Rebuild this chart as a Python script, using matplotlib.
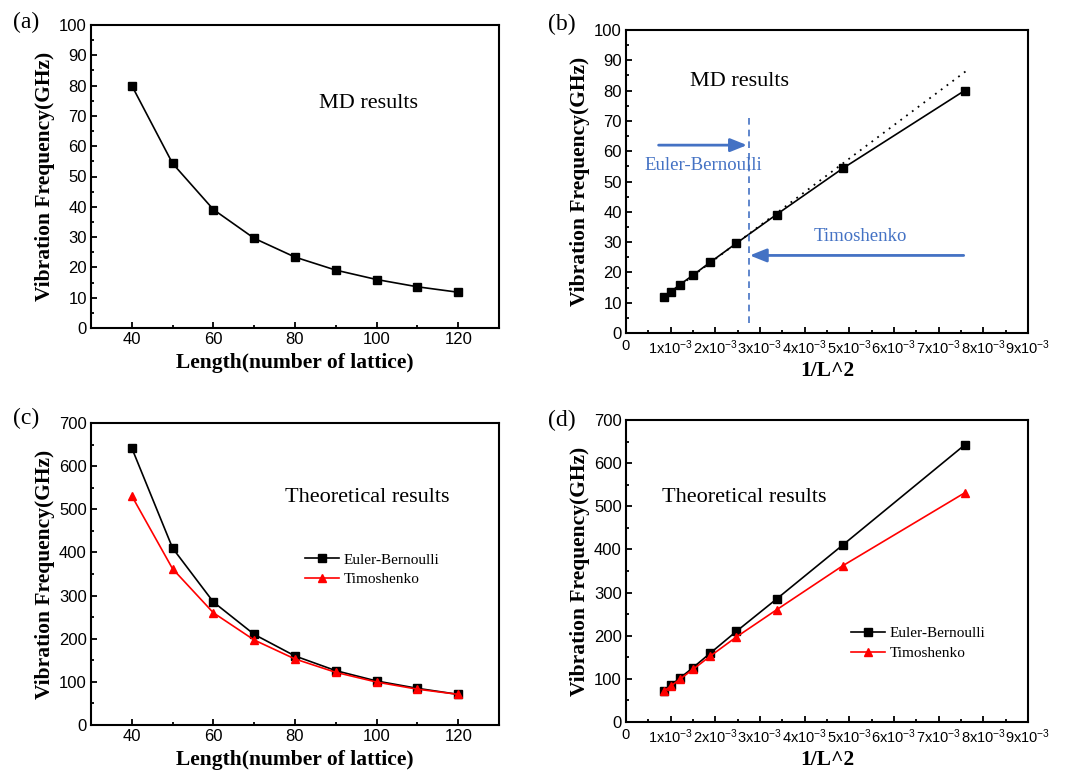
import matplotlib
matplotlib.use("Agg")
import matplotlib.pyplot as plt
from matplotlib.ticker import MultipleLocator, FixedLocator, FixedFormatter

plt.rcParams['font.family'] = ['Liberation Sans', 'DejaVu Sans']
plt.rcParams['mathtext.default'] = 'regular'

# ---------------- data ----------------
length = [40, 50, 60, 70, 80, 90, 100, 110, 120]
inv_L2 = [7.58e-3, 4.85e-3, 3.37e-3, 2.47e-3, 1.89e-3, 1.50e-3, 1.21e-3, 1.00e-3, 0.84e-3]
md_freq = [80.0, 54.3, 39.1, 29.6, 23.4, 19.1, 16.0, 13.6, 11.8]
euler_freq = [642, 410, 285, 210, 160, 126, 102, 85, 71]
timo_freq = [531, 362, 260, 197, 153, 122, 99.5, 83, 71]
fit_x = [0.84e-3, 7.6e-3]
fit_y = [11.6, 86.3]
boundary_x = 2.75e-3
inv_ticks = [0, 1e-3, 2e-3, 3e-3, 4e-3, 5e-3, 6e-3, 7e-3, 8e-3, 9e-3]
inv_labels = ['0'] + [r'%dx10$^{-3}$' % i for i in range(1, 10)]

W, H = 1067, 774
fig = plt.figure(figsize=(W / 100, H / 100), dpi=100)

def px_axes(l, t, r, b):
    return fig.add_axes([l / W, 1 - b / H, (r - l) / W, (b - t) / H])

ax_a = px_axes(91, 25, 499, 328)
ax_b = px_axes(626, 30, 1028, 333)
ax_c = px_axes(91, 423, 499, 725)
ax_d = px_axes(626, 420, 1028, 722)

serif = 'Liberation Serif'
lab_kw = dict(family=serif, fontweight='bold', fontsize=15.5)
blue = '#4472C4'

def style(ax):
    for s in ax.spines.values():
        s.set_linewidth(1.5)
    ax.tick_params(which='major', direction='in', length=4, width=1.3, labelsize=12, pad=3)
    ax.tick_params(which='minor', direction='in', length=2.5, width=1.3)
    ax.set_ylabel('Vibration Frequency(GHz)', labelpad=3, **lab_kw)

def style_len(ax):
    ax.set_xlim(30, 130)
    ax.xaxis.set_major_locator(MultipleLocator(20))
    ax.xaxis.set_minor_locator(MultipleLocator(10))
    ax.set_xlabel('Length(number of lattice)', labelpad=4, **lab_kw)

def style_inv(ax):
    ax.set_xlim(0, 9e-3)
    ax.xaxis.set_major_locator(FixedLocator(inv_ticks))
    ax.xaxis.set_major_formatter(FixedFormatter(inv_labels))
    ax.xaxis.set_minor_locator(MultipleLocator(0.5e-3))
    ax.tick_params(axis='x', labelsize=10.5, pad=4)
    ax.set_xlabel('1/L^2', labelpad=3, **lab_kw)

mk = dict(markersize=5.5, lw=1.2)

# (a)
ax_a.plot(length, md_freq, color='black', marker='s', **mk)
ax_a.set_ylim(0, 100)
ax_a.yaxis.set_major_locator(MultipleLocator(10))
ax_a.yaxis.set_minor_locator(MultipleLocator(5))
style(ax_a); style_len(ax_a)
ax_a.text(86, 74, 'MD results', family=serif, fontsize=16, va='center', ha='left')

# (b)
ax_b.plot(inv_L2, md_freq, color='black', marker='s', **mk)
ax_b.plot(fit_x, fit_y, color='black', ls=(0, (1, 3)), lw=1.3)
ax_b.plot([boundary_x, boundary_x], [3.3, 72.5], color=blue, ls=(0, (4, 3)), lw=1.2)
arrow_kw = dict(arrowstyle='-|>,head_length=1.0,head_width=0.4', color=blue, lw=2,
                shrinkA=0, shrinkB=0)
ax_b.annotate('', xy=(2.71e-3, 62), xytext=(0.73e-3, 62), arrowprops=arrow_kw)
ax_b.annotate('', xy=(2.77e-3, 25.6), xytext=(7.56e-3, 25.6), arrowprops=arrow_kw)
ax_b.text(1.74e-3, 55.3, 'Euler-Bernoulli', family=serif, fontsize=13.5, color=blue, ha='center', va='center')
ax_b.text(5.25e-3, 32, 'Timoshenko', family=serif, fontsize=13.5, color=blue, ha='center', va='center')
ax_b.text(1.44e-3, 83, 'MD results', family=serif, fontsize=16, va='center', ha='left')
ax_b.set_ylim(0, 100)
ax_b.yaxis.set_major_locator(MultipleLocator(10))
ax_b.yaxis.set_minor_locator(MultipleLocator(5))
style(ax_b); style_inv(ax_b)

# (c)
ax_c.plot(length, euler_freq, color='black', marker='s', label='Euler-Bernoulli', **mk)
ax_c.plot(length, timo_freq, color='red', marker='^', label='Timoshenko', **mk)
ax_c.set_ylim(0, 700)
ax_c.yaxis.set_major_locator(MultipleLocator(100))
ax_c.yaxis.set_minor_locator(MultipleLocator(50))
style(ax_c); style_len(ax_c)
ax_c.text(77.5, 528, 'Theoretical results', family=serif, fontsize=16, va='center', ha='left')
ax_c.legend(loc='upper left', bbox_to_anchor=(0.51, 0.59), frameon=False,
            prop=dict(family=serif, size=11), handlelength=2.2, handletextpad=0.3,
            labelspacing=0.4, borderaxespad=0)

# (d)
ax_d.plot(inv_L2, euler_freq, color='black', marker='s', label='Euler-Bernoulli', **mk)
ax_d.plot(inv_L2, timo_freq, color='red', marker='^', label='Timoshenko', **mk)
ax_d.set_ylim(0, 700)
ax_d.yaxis.set_major_locator(MultipleLocator(100))
ax_d.yaxis.set_minor_locator(MultipleLocator(50))
style(ax_d); style_inv(ax_d)
ax_d.text(0.8e-3, 521, 'Theoretical results', family=serif, fontsize=16, va='center', ha='left')
ax_d.legend(loc='upper left', bbox_to_anchor=(0.545, 0.336), frameon=False,
            prop=dict(family=serif, size=11), handlelength=2.2, handletextpad=0.3,
            labelspacing=0.4, borderaxespad=0)

for lbl, x, y in [('(a)', 26, 22), ('(b)', 562, 24), ('(c)', 26, 418), ('(d)', 562, 420)]:
    fig.text(x / W, 1 - y / H, lbl, family=serif, fontsize=17, ha='center', va='center')

fig.savefig('out.png', dpi=100)
